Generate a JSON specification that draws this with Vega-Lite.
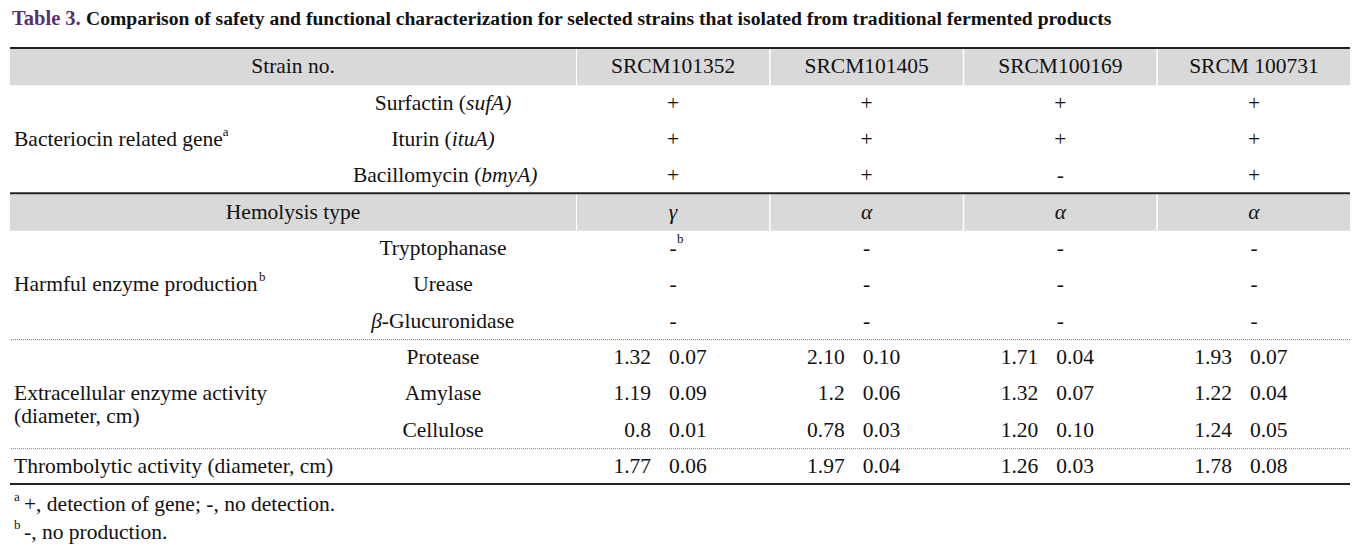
{
  "$schema": "https://vega.github.io/schema/vega-lite/v6.json",
  "width": 1340,
  "height": 553,
  "padding": {"left": 10, "top": 0, "right": 19, "bottom": 0},
  "autosize": {"type": "none"},
  "background": "white",
  "config": {
    "view": {"stroke": null},
    "text": {"font": "Liberation Serif", "fontSize": 21.5, "color": "#111111", "baseline": "middle"}
  },
  "datasets": {
    "cells": [
      {"row": "sur", "strain": "SRCM101352", "value": "+"},
      {"row": "sur", "strain": "SRCM101405", "value": "+"},
      {"row": "sur", "strain": "SRCM100169", "value": "+"},
      {"row": "sur", "strain": "SRCM 100731", "value": "+"},
      {"row": "itu", "strain": "SRCM101352", "value": "+"},
      {"row": "itu", "strain": "SRCM101405", "value": "+"},
      {"row": "itu", "strain": "SRCM100169", "value": "+"},
      {"row": "itu", "strain": "SRCM 100731", "value": "+"},
      {"row": "bac", "strain": "SRCM101352", "value": "+"},
      {"row": "bac", "strain": "SRCM101405", "value": "+"},
      {"row": "bac", "strain": "SRCM100169", "value": "-"},
      {"row": "bac", "strain": "SRCM 100731", "value": "+"},
      {"row": "try", "strain": "SRCM101352", "value": "-"},
      {"row": "try", "strain": "SRCM101405", "value": "-"},
      {"row": "try", "strain": "SRCM100169", "value": "-"},
      {"row": "try", "strain": "SRCM 100731", "value": "-"},
      {"row": "ure", "strain": "SRCM101352", "value": "-"},
      {"row": "ure", "strain": "SRCM101405", "value": "-"},
      {"row": "ure", "strain": "SRCM100169", "value": "-"},
      {"row": "ure", "strain": "SRCM 100731", "value": "-"},
      {"row": "glu", "strain": "SRCM101352", "value": "-"},
      {"row": "glu", "strain": "SRCM101405", "value": "-"},
      {"row": "glu", "strain": "SRCM100169", "value": "-"},
      {"row": "glu", "strain": "SRCM 100731", "value": "-"}
    ],
    "hemo": [
      {"row": "hem", "strain": "SRCM101352", "value": "γ"},
      {"row": "hem", "strain": "SRCM101405", "value": "α"},
      {"row": "hem", "strain": "SRCM100169", "value": "α"},
      {"row": "hem", "strain": "SRCM 100731", "value": "α"}
    ],
    "heads": [
      {"row": "hdr", "strain": "SRCM101352"},
      {"row": "hdr", "strain": "SRCM101405"},
      {"row": "hdr", "strain": "SRCM100169"},
      {"row": "hdr", "strain": "SRCM 100731"},
      {"row": "hem", "strain": "SRCM101352"},
      {"row": "hem", "strain": "SRCM101405"},
      {"row": "hem", "strain": "SRCM100169"},
      {"row": "hem", "strain": "SRCM 100731"}
    ],
    "nums": [
      {"row": "pro", "strain": "SRCM101352", "mean": "1.32", "sd": "0.07"},
      {"row": "pro", "strain": "SRCM101405", "mean": "2.10", "sd": "0.10"},
      {"row": "pro", "strain": "SRCM100169", "mean": "1.71", "sd": "0.04"},
      {"row": "pro", "strain": "SRCM 100731", "mean": "1.93", "sd": "0.07"},
      {"row": "amy", "strain": "SRCM101352", "mean": "1.19", "sd": "0.09"},
      {"row": "amy", "strain": "SRCM101405", "mean": "1.2", "sd": "0.06"},
      {"row": "amy", "strain": "SRCM100169", "mean": "1.32", "sd": "0.07"},
      {"row": "amy", "strain": "SRCM 100731", "mean": "1.22", "sd": "0.04"},
      {"row": "cel", "strain": "SRCM101352", "mean": "0.8", "sd": "0.01"},
      {"row": "cel", "strain": "SRCM101405", "mean": "0.78", "sd": "0.03"},
      {"row": "cel", "strain": "SRCM100169", "mean": "1.20", "sd": "0.10"},
      {"row": "cel", "strain": "SRCM 100731", "mean": "1.24", "sd": "0.05"},
      {"row": "thr", "strain": "SRCM101352", "mean": "1.77", "sd": "0.06"},
      {"row": "thr", "strain": "SRCM101405", "mean": "1.97", "sd": "0.04"},
      {"row": "thr", "strain": "SRCM100169", "mean": "1.26", "sd": "0.03"},
      {"row": "thr", "strain": "SRCM 100731", "mean": "1.78", "sd": "0.08"}
    ]
  },
  "encoding": {
    "y": {
      "field": "row", "type": "nominal", "axis": null,
      "scale": {"type": "band", "domain": ["title", "hdr", "sur", "itu", "bac", "hem", "try", "ure", "glu", "pro", "amy", "cel", "thr", "fna", "fnb"], "range": [12.667, 557.667], "paddingInner": 0, "paddingOuter": 0}
    }
  },
  "resolve": {"scale": {"x": "independent"}},
  "layer": [
    {
      "data": {"values": [{"row": "hdr"}, {"row": "hem"}]},
      "mark": {"type": "rect", "color": "#D9D9D9", "y2Offset": -1.3},
      "encoding": {"x": {"datum": "label", "type": "nominal", "axis": null, "scale": {"type": "band", "domain": ["label"], "range": [0, 566], "paddingInner": 0, "paddingOuter": 0}}}
    },
    {
      "data": {"name": "heads"},
      "mark": {"type": "rect", "color": "#D9D9D9", "y2Offset": -1.3},
      "encoding": {"x": {"field": "strain", "type": "nominal", "axis": null, "scale": {"type": "band", "domain": ["SRCM101352", "SRCM101405", "SRCM100169", "SRCM 100731"], "range": [567, 1340], "paddingInner": 0.008, "paddingOuter": 0}}}
    },
    {
      "data": {"values": [{"row": "hdr"}, {"row": "hem"}, {"row": "fna"}]},
      "mark": {"type": "rule", "color": "#222222", "strokeWidth": 2, "yOffset": -1},
      "encoding": {"y": {"field": "row", "type": "nominal", "bandPosition": 0, "axis": null}}
    },
    {
      "data": {"values": [{"row": "pro"}, {"row": "thr"}]},
      "mark": {"type": "rule", "color": "#777777", "strokeWidth": 1, "strokeDash": [1, 1]},
      "encoding": {"y": {"field": "row", "type": "nominal", "bandPosition": 0, "axis": null}}
    },
    {
      "data": {"name": "heads"},
      "transform": [{"filter": "datum.row === 'hdr'"}],
      "mark": {"type": "text"},
      "encoding": {
        "x": {"field": "strain", "type": "nominal", "axis": null, "scale": {"type": "band", "domain": ["SRCM101352", "SRCM101405", "SRCM100169", "SRCM 100731"], "range": [567, 1340], "paddingInner": 0.008, "paddingOuter": 0}},
        "text": {"field": "strain"}
      }
    },
    {
      "data": {"name": "cells"},
      "mark": {"type": "text"},
      "encoding": {
        "x": {"field": "strain", "type": "nominal", "axis": null, "scale": {"type": "band", "domain": ["SRCM101352", "SRCM101405", "SRCM100169", "SRCM 100731"], "range": [567, 1340], "paddingInner": 0.008, "paddingOuter": 0}},
        "text": {"field": "value"}
      }
    },
    {
      "data": {"name": "hemo"},
      "mark": {"type": "text", "fontStyle": "italic"},
      "encoding": {
        "x": {"field": "strain", "type": "nominal", "axis": null, "scale": {"type": "band", "domain": ["SRCM101352", "SRCM101405", "SRCM100169", "SRCM 100731"], "range": [567, 1340], "paddingInner": 0.008, "paddingOuter": 0}},
        "text": {"field": "value"}
      }
    },
    {
      "data": {"values": [{"row": "try", "strain": "SRCM101352", "note": "b"}]},
      "mark": {"type": "text", "fontSize": 13, "align": "left", "dx": 4, "dy": -10},
      "encoding": {
        "x": {"field": "strain", "type": "nominal", "axis": null, "scale": {"type": "band", "domain": ["SRCM101352", "SRCM101405", "SRCM100169", "SRCM 100731"], "range": [567, 1340], "paddingInner": 0.008, "paddingOuter": 0}},
        "text": {"field": "note"}
      }
    },
    {
      "data": {"name": "nums"},
      "mark": {"type": "text", "align": "right", "dx": -22},
      "encoding": {
        "x": {"field": "strain", "type": "nominal", "axis": null, "scale": {"type": "band", "domain": ["SRCM101352", "SRCM101405", "SRCM100169", "SRCM 100731"], "range": [567, 1340], "paddingInner": 0.008, "paddingOuter": 0}},
        "text": {"field": "mean"}
      }
    },
    {
      "data": {"name": "nums"},
      "mark": {"type": "text", "align": "left", "dx": -4},
      "encoding": {
        "x": {"field": "strain", "type": "nominal", "axis": null, "scale": {"type": "band", "domain": ["SRCM101352", "SRCM101405", "SRCM100169", "SRCM 100731"], "range": [567, 1340], "paddingInner": 0.008, "paddingOuter": 0}},
        "text": {"field": "sd"}
      }
    },
    {
      "data": {"values": [{"row": "hdr", "label": "Strain no."}, {"row": "hem", "label": "Hemolysis type"}]},
      "mark": {"type": "text", "align": "center"},
      "encoding": {
        "x": {"datum": "label", "type": "nominal", "bandPosition": 0.5, "axis": null, "scale": {"type": "band", "domain": ["label"], "range": [0, 566], "paddingInner": 0, "paddingOuter": 0}},
        "text": {"field": "label"}
      }
    },
    {
      "data": {"values": [
        {"row": "itu", "label": "Bacteriocin related gene"},
        {"row": "ure", "label": "Harmful enzyme production"},
        {"row": "amy", "label": "Extracellular enzyme activity\n(diameter, cm)"},
        {"row": "thr", "label": "Thrombolytic activity (diameter, cm)"}
      ]},
      "mark": {"type": "text", "align": "left", "lineBreak": "\n", "lineHeight": 23},
      "encoding": {
        "x": {"datum": "label", "type": "nominal", "bandPosition": 0.00707, "axis": null, "scale": {"type": "band", "domain": ["label"], "range": [0, 566], "paddingInner": 0, "paddingOuter": 0}},
        "text": {"field": "label"}
      }
    },
    {
      "data": {"values": [{"row": "itu", "note": "a"}]},
      "mark": {"type": "text", "align": "left", "fontSize": 13, "dy": -8},
      "encoding": {
        "x": {"datum": "label", "type": "nominal", "bandPosition": 0.376, "axis": null, "scale": {"type": "band", "domain": ["label"], "range": [0, 566], "paddingInner": 0, "paddingOuter": 0}},
        "text": {"field": "note"}
      }
    },
    {
      "data": {"values": [{"row": "ure", "note": "b"}]},
      "mark": {"type": "text", "align": "left", "fontSize": 13, "dy": -8},
      "encoding": {
        "x": {"datum": "label", "type": "nominal", "bandPosition": 0.44, "axis": null, "scale": {"type": "band", "domain": ["label"], "range": [0, 566], "paddingInner": 0, "paddingOuter": 0}},
        "text": {"field": "note"}
      }
    },
    {
      "data": {"values": [
        {"row": "try", "label": "Tryptophanase"},
        {"row": "ure", "label": "Urease"},
        {"row": "pro", "label": "Protease"},
        {"row": "amy", "label": "Amylase"},
        {"row": "cel", "label": "Cellulose"}
      ]},
      "mark": {"type": "text", "align": "center"},
      "encoding": {
        "x": {"datum": "label", "type": "nominal", "bandPosition": 0.765, "axis": null, "scale": {"type": "band", "domain": ["label"], "range": [0, 566], "paddingInner": 0, "paddingOuter": 0}},
        "text": {"field": "label"}
      }
    },
    {
      "data": {"values": [{"row": "sur", "label": "Surfactin ("}]},
      "mark": {"type": "text", "align": "right"},
      "encoding": {
        "x": {"datum": "label", "type": "nominal", "bandPosition": 0.8057, "axis": null, "scale": {"type": "band", "domain": ["label"], "range": [0, 566], "paddingInner": 0, "paddingOuter": 0}},
        "text": {"field": "label"}
      }
    },
    {
      "data": {"values": [{"row": "sur", "label": "sufA)"}]},
      "mark": {"type": "text", "align": "left", "fontStyle": "italic"},
      "encoding": {
        "x": {"datum": "label", "type": "nominal", "bandPosition": 0.8057, "axis": null, "scale": {"type": "band", "domain": ["label"], "range": [0, 566], "paddingInner": 0, "paddingOuter": 0}},
        "text": {"field": "label"}
      }
    },
    {
      "data": {"values": [{"row": "itu", "label": "Iturin ("}]},
      "mark": {"type": "text", "align": "right"},
      "encoding": {
        "x": {"datum": "label", "type": "nominal", "bandPosition": 0.7804, "axis": null, "scale": {"type": "band", "domain": ["label"], "range": [0, 566], "paddingInner": 0, "paddingOuter": 0}},
        "text": {"field": "label"}
      }
    },
    {
      "data": {"values": [{"row": "itu", "label": "ituA)"}]},
      "mark": {"type": "text", "align": "left", "fontStyle": "italic"},
      "encoding": {
        "x": {"datum": "label", "type": "nominal", "bandPosition": 0.7804, "axis": null, "scale": {"type": "band", "domain": ["label"], "range": [0, 566], "paddingInner": 0, "paddingOuter": 0}},
        "text": {"field": "label"}
      }
    },
    {
      "data": {"values": [{"row": "bac", "label": "Bacillomycin ("}]},
      "mark": {"type": "text", "align": "right"},
      "encoding": {
        "x": {"datum": "label", "type": "nominal", "bandPosition": 0.8327, "axis": null, "scale": {"type": "band", "domain": ["label"], "range": [0, 566], "paddingInner": 0, "paddingOuter": 0}},
        "text": {"field": "label"}
      }
    },
    {
      "data": {"values": [{"row": "bac", "label": "bmyA)"}]},
      "mark": {"type": "text", "align": "left", "fontStyle": "italic"},
      "encoding": {
        "x": {"datum": "label", "type": "nominal", "bandPosition": 0.8327, "axis": null, "scale": {"type": "band", "domain": ["label"], "range": [0, 566], "paddingInner": 0, "paddingOuter": 0}},
        "text": {"field": "label"}
      }
    },
    {
      "data": {"values": [{"row": "glu", "label": "β"}]},
      "mark": {"type": "text", "align": "right", "fontStyle": "italic"},
      "encoding": {
        "x": {"datum": "label", "type": "nominal", "bandPosition": 0.657, "axis": null, "scale": {"type": "band", "domain": ["label"], "range": [0, 566], "paddingInner": 0, "paddingOuter": 0}},
        "text": {"field": "label"}
      }
    },
    {
      "data": {"values": [{"row": "glu", "label": "-Glucuronidase"}]},
      "mark": {"type": "text", "align": "left"},
      "encoding": {
        "x": {"datum": "label", "type": "nominal", "bandPosition": 0.657, "axis": null, "scale": {"type": "band", "domain": ["label"], "range": [0, 566], "paddingInner": 0, "paddingOuter": 0}},
        "text": {"field": "label"}
      }
    },
    {
      "data": {"values": [{"row": "title", "label": "Table 3."}]},
      "mark": {"type": "text", "align": "left", "fontWeight": "bold", "fontSize": 20.5, "color": "#54306F"},
      "encoding": {
        "x": {"datum": "label", "type": "nominal", "bandPosition": 0.00353, "axis": null, "scale": {"type": "band", "domain": ["label"], "range": [0, 566], "paddingInner": 0, "paddingOuter": 0}},
        "y": {"field": "row", "type": "nominal", "bandPosition": 0.174, "axis": null},
        "text": {"field": "label"}
      }
    },
    {
      "data": {"values": [{"row": "title", "label": "Comparison of safety and functional characterization for selected strains that isolated from traditional fermented products"}]},
      "mark": {"type": "text", "align": "left", "fontWeight": "bold", "fontSize": 19.6, "color": "#111111"},
      "encoding": {
        "x": {"datum": "label", "type": "nominal", "bandPosition": 0.1343, "axis": null, "scale": {"type": "band", "domain": ["label"], "range": [0, 566], "paddingInner": 0, "paddingOuter": 0}},
        "y": {"field": "row", "type": "nominal", "bandPosition": 0.174, "axis": null},
        "text": {"field": "label"}
      }
    },
    {
      "data": {"values": [{"row": "fna", "note": "a"}]},
      "mark": {"type": "text", "align": "left", "fontSize": 13, "dy": -8},
      "encoding": {
        "x": {"datum": "label", "type": "nominal", "bandPosition": 0.00707, "axis": null, "scale": {"type": "band", "domain": ["label"], "range": [0, 566], "paddingInner": 0, "paddingOuter": 0}},
        "y": {"field": "row", "type": "nominal", "bandPosition": 0.55, "axis": null},
        "text": {"field": "note"}
      }
    },
    {
      "data": {"values": [{"row": "fnb", "note": "b"}]},
      "mark": {"type": "text", "align": "left", "fontSize": 13, "dy": -8},
      "encoding": {
        "x": {"datum": "label", "type": "nominal", "bandPosition": 0.00707, "axis": null, "scale": {"type": "band", "domain": ["label"], "range": [0, 566], "paddingInner": 0, "paddingOuter": 0}},
        "y": {"field": "row", "type": "nominal", "bandPosition": 0.32, "axis": null},
        "text": {"field": "note"}
      }
    },
    {
      "data": {"values": [{"row": "fna", "label": "+, detection of gene; -, no detection."}]},
      "mark": {"type": "text", "align": "left"},
      "encoding": {
        "x": {"datum": "label", "type": "nominal", "bandPosition": 0.0247, "axis": null, "scale": {"type": "band", "domain": ["label"], "range": [0, 566], "paddingInner": 0, "paddingOuter": 0}},
        "y": {"field": "row", "type": "nominal", "bandPosition": 0.55, "axis": null},
        "text": {"field": "label"}
      }
    },
    {
      "data": {"values": [{"row": "fnb", "label": "-, no production."}]},
      "mark": {"type": "text", "align": "left"},
      "encoding": {
        "x": {"datum": "label", "type": "nominal", "bandPosition": 0.0247, "axis": null, "scale": {"type": "band", "domain": ["label"], "range": [0, 566], "paddingInner": 0, "paddingOuter": 0}},
        "y": {"field": "row", "type": "nominal", "bandPosition": 0.32, "axis": null},
        "text": {"field": "label"}
      }
    }
  ]
}
